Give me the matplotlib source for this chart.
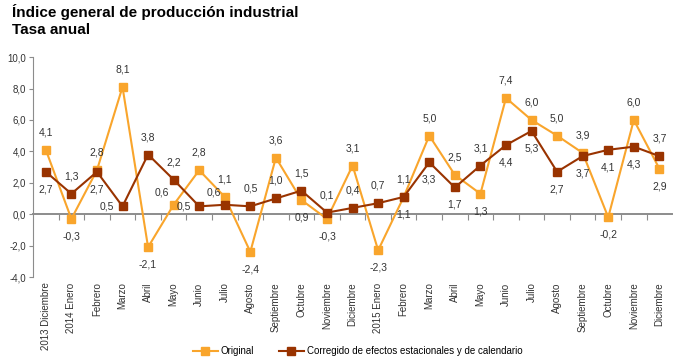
import matplotlib.pyplot as plt

plt.rcParams['font.family'] = ['Liberation Sans', 'DejaVu Sans']

# Months (Dec 2013 - Dec 2015)
meses = ['2013 Diciembre', '2014 Enero', 'Febrero', 'Marzo', 'Abril', 'Mayo', 'Junio',
         'Julio', 'Agosto', 'Septiembre', 'Octubre', 'Noviembre', 'Diciembre',
         '2015 Enero', 'Febrero', 'Marzo', 'Abril', 'Mayo', 'Junio', 'Julio',
         'Agosto', 'Septiembre', 'Octubre', 'Noviembre', 'Diciembre']
original = [4.1, -0.3, 2.8, 8.1, -2.1, 0.6, 2.8, 1.1, -2.4, 3.6, 0.9, -0.3, 3.1,
            -2.3, 1.1, 5.0, 2.5, 1.3, 7.4, 6.0, 5.0, 3.9, -0.2, 6.0, 2.9]
corregido = [2.7, 1.3, 2.7, 0.5, 3.8, 2.2, 0.5, 0.6, 0.5, 1.0, 1.5, 0.1, 0.4,
             0.7, 1.1, 3.3, 1.7, 3.1, 4.4, 5.3, 2.7, 3.7, 4.1, 4.3, 3.7]

# where each value label sits: a=above, b=below, l=left, al=above-left
pos_orig = ['a', 'b', 'a', 'a', 'b', 'al', 'a', 'a', 'b', 'a', 'b', 'b', 'a',
            'b', 'b', 'a', 'a', 'b', 'a', 'a', 'a', 'a', 'b', 'a', 'b']
pos_corr = ['b', 'a', 'b', 'l', 'a', 'a', 'l', 'al', 'a', 'a', 'a', 'a', 'a',
            'a', 'a', 'b', 'b', 'a', 'b', 'b', 'b', 'b', 'b', 'b', 'a']

c_orig = '#F9A52C'
c_corr = '#993300'
gris = '#8C8C8C'
offsets = {'a': (0, 9, 'center', 'bottom'), 'b': (0, -9, 'center', 'top'),
           'l': (-6, 0, 'right', 'center'), 'al': (-3, 5, 'right', 'bottom')}

fig = plt.figure(figsize=(6.81, 3.64), dpi=100)
ax = fig.add_axes([0.0485, 0.239, 0.9385, 0.604])

x = list(range(len(meses)))
ax.plot(x, original, color=c_orig, lw=1.5, marker='s', ms=6, label='Original')
ax.plot(x, corregido, color=c_corr, lw=1.5, marker='s', ms=5.5,
        label='Corregido de efectos estacionales y de calendario')

def etiquetas(vals, pos):
    for i, (v, p) in enumerate(zip(vals, pos)):
        dx, dy, ha, va = offsets[p]
        ax.annotate(f'{v:.1f}'.replace('.', ','), (i, v), xytext=(dx, dy),
                    textcoords='offset points', ha=ha, va=va, fontsize=7.5,
                    color='#333333')

etiquetas(original, pos_orig)
etiquetas(corregido, pos_corr)

ymin, ymax = -4, 10
ax.set_ylim(ymin, ymax)
ax.set_xlim(-0.5, len(meses) - 0.5)
ax.set_yticks(range(ymin, ymax + 1, 2))
ax.set_yticklabels([f'{v:.1f}'.replace('.', ',') for v in range(ymin, ymax + 1, 2)])
ax.set_xticks(x)
ax.set_xticklabels(meses, rotation=90, fontsize=7, color='#333333')
ax.tick_params(axis='x', length=0, pad=4)
ax.tick_params(axis='y', length=3, color=gris, labelsize=7, labelcolor='#333333', pad=2)
for s in ['top', 'right', 'bottom']:
    ax.spines[s].set_visible(False)
ax.spines['left'].set_color(gris)

# zero line with category separators
cero = ax.secondary_xaxis((0 - ymin) / (ymax - ymin))
cero.set_xticks([i + 0.5 for i in x[:-1]])
cero.tick_params(length=4, color=gris, labelbottom=False)
cero.spines['bottom'].set_color(gris)
cero.spines['bottom'].set_linewidth(1.4)

fig.text(0.018, 0.99, 'Índice general de producción industrial\nTasa anual',
         fontsize=11, fontweight='bold', va='top', ha='left', linespacing=1.3)

fig.legend(loc='center', bbox_to_anchor=(0.525, 0.035), ncol=2, frameon=False,
           fontsize=7, handlelength=2.6, columnspacing=2.5, handletextpad=0.3)

fig.savefig('out.png', dpi=100)
